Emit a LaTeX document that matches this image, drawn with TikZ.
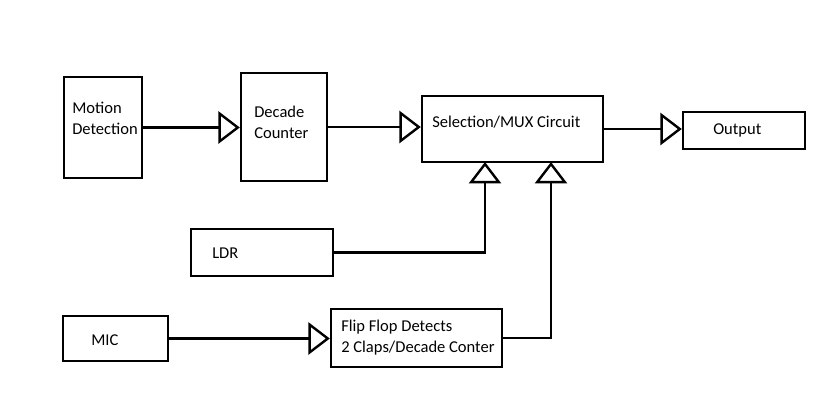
\documentclass[tikz,border=0pt]{standalone}
\usepackage{fontspec}
\setmainfont{Carlito}
\usetikzlibrary{arrows.meta}

\tikzset{
    blk/.style={draw, line width=1.8pt, inner sep=0pt},
    txt/.style={anchor=west, align=left, inner sep=0pt, font=\fontsize{12.4}{15.75}\selectfont},
    arr/.style={line width=1.8pt, -{Triangle[open, length=16pt, width=24pt, line width=1.8pt]}}
}

\begin{document}
\begin{tikzpicture}[x=0.75pt,y=-0.75pt]
    \useasboundingbox (0,0) rectangle (837,419);
    % blocks
    \node[blk, minimum width=58.5pt, minimum height=75.75pt] (motion) at (103,127.5) {};
    \node[blk, minimum width=64.5pt, minimum height=81pt] (decade) at (284,127) {};
    \node[blk, minimum width=135.75pt, minimum height=49.5pt] (mux) at (512.5,129) {};
    \node[blk, minimum width=91.5pt, minimum height=27.75pt] (output) at (744,130.5) {};
    \node[blk, minimum width=106.5pt, minimum height=35.25pt] (ldr) at (262,252.5) {};
    \node[blk, minimum width=78.75pt, minimum height=33.75pt] (mic) at (115.5,338.5) {};
    \node[blk, minimum width=128.25pt, minimum height=43.5pt] (ff) at (416.5,338) {};
    % texts
    \node[txt] (motiontxt) at (72,118.5) {Motion\\Detection};
    \node[txt] (decadetxt) at (254,122) {Decade\\Counter};
    \node[txt] (muxtxt) at (432,122) {Selection/MUX Circuit};
    \node[txt] (outputtxt) at (713,130) {Output};
    \node[txt] (ldrtxt) at (212,253) {LDR};
    \node[txt] (mictxt) at (91,340) {MIC};
    \node[txt] (fftxt) at (341,338) {Flip Flop Detects\\2 Claps/Decade Conter};
    % inputs under the mux
    \coordinate (inldr) at (485,162);
    \coordinate (inff) at (551,162);
    % connectors
    \draw[arr] (motion.east) -- (motion.east -| decade.west);
    \draw[arr] (decade.east) -- (decade.east -| mux.west);
    \draw[arr] (mux.east) -- (mux.east -| output.west);
    \draw[arr] (ldr.east) -| (inldr);
    \draw[arr] (ff.east) -| (inff);
    \draw[arr] (mic.east) -- (mic.east -| ff.west);
\end{tikzpicture}
\end{document}
